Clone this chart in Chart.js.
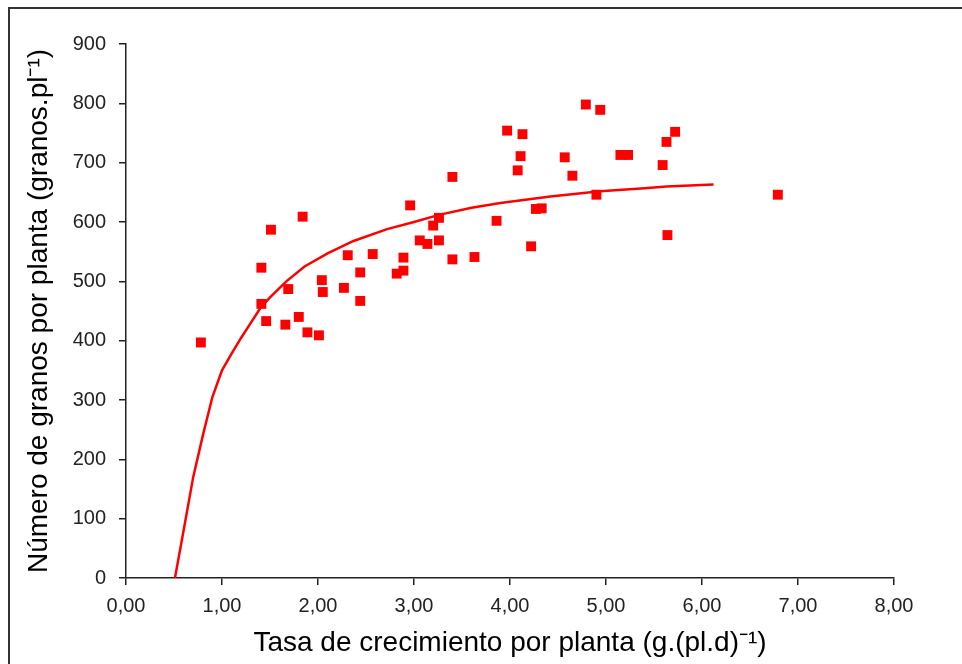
<!DOCTYPE html>
<html>
<head>
<meta charset="utf-8">
<script src="https://cdn.jsdelivr.net/npm/chart.js@4.4.1/dist/chart.umd.min.js"></script>
<style>
    html, body { margin: 0; padding: 0; background: #fff; overflow: hidden; }
    #frame { position: absolute; left: 8px; top: 7px; width: 1000px; height: 700px; border: 2px solid #333; }
    #wrap { position: absolute; left: 0; top: 0; width: 962px; height: 664px; }
</style>
</head>
<body>
<div id="frame"></div>
<div id="wrap"><canvas id="myChart"></canvas></div>
<script>
    // observed points: growth rate per plant vs grains per plant
    const tasaX = [0.78, 1.41, 1.41, 1.46, 1.51, 1.66, 1.69, 1.80, 1.84, 1.89,
        2.01, 2.04, 2.05, 2.27, 2.31, 2.44, 2.44, 2.57, 2.82, 2.89,
        2.89, 2.96, 3.06, 3.14, 3.20, 3.26, 3.26, 3.40, 3.40, 3.63,
        3.86, 3.97, 4.08, 4.11, 4.13, 4.22, 4.27, 4.33, 4.57, 4.65,
        4.79, 4.90, 4.94, 5.15, 5.23, 5.59, 5.63, 5.64, 5.72, 6.79];
    const granosY = [397, 523, 462, 433, 587, 427, 487, 440, 609, 414,
        409, 502, 482, 489, 544, 515, 467, 546, 513, 518,
        540, 628, 569, 563, 594, 607, 569, 676, 537, 541,
        602, 754, 687, 711, 748, 559, 622, 623, 709, 678,
        798, 646, 789, 713, 713, 696, 735, 578, 752, 646];

    // fitted curve
    const curvaX = [0.51, 0.60, 0.70, 0.80, 0.90, 1.00, 1.10, 1.20, 1.30, 1.40,
        1.50, 1.67, 1.86, 2.10, 2.37, 2.72, 3.00, 3.26, 3.60, 3.90,
        4.42, 4.94, 5.40, 5.63, 6.12];
    const curvaY = [0, 80, 170, 240, 305, 350, 378, 405, 430, 455,
        473, 500, 525, 547, 568, 588, 600, 612, 624, 632,
        643, 652, 657, 660, 663];

    const xTickLabels = ['0,00', '1,00', '2,00', '3,00', '4,00', '5,00', '6,00', '7,00', '8,00'];
    const yTickLabels = ['0', '100', '200', '300', '400', '500', '600', '700', '800', '900'];

    const puntos = tasaX.map((x, i) => ({ x: x, y: granosY[i] }));
    const curva = curvaX.map((x, i) => ({ x: x, y: curvaY[i] }));

    const ctx = document.getElementById('myChart');

    const myChart = new Chart(ctx, {
        type: 'scatter',
        data: {
            datasets: [{
                label: 'Observado',
                data: puntos,
                pointStyle: 'rect',
                pointRadius: 7,
                pointHoverRadius: 7,
                backgroundColor: '#ff0000',
                borderWidth: 0,
                order: 1
            }, {
                label: 'Ajuste',
                type: 'line',
                data: curva,
                showLine: true,
                borderColor: '#ff0000',
                borderWidth: 2.5,
                pointRadius: 0,
                tension: 0,
                fill: false,
                order: 2
            }]
        },
        options: {
            responsive: true,
            maintainAspectRatio: false,
            animation: false,
            layout: {
                padding: { top: 44, right: 68, left: 18, bottom: 0 }
            },
            scales: {
                x: {
                    type: 'linear',
                    min: 0,
                    max: 8,
                    afterFit: function (scale) { scale.height = 86; },
                    afterBuildTicks: function (scale) {
                        scale.ticks = xTickLabels.map((t, i) => ({ value: i }));
                    },
                    grid: {
                        drawOnChartArea: false,
                        drawTicks: true,
                        tickLength: 7,
                        color: '#222',
                        lineWidth: 1.5
                    },
                    border: { color: '#222', width: 1.5 },
                    ticks: {
                        color: '#222',
                        font: { family: 'Liberation Sans, Arial', size: 20 },
                        padding: 9,
                        maxRotation: 0,
                        callback: function (value, index) { return xTickLabels[index]; }
                    },
                    title: {
                        display: true,
                        text: 'Tasa de crecimiento por planta (g.(pl.d)\u207B\u00B9)',
                        color: '#000',
                        font: { family: 'Liberation Sans, Arial', size: 28 },
                        padding: { top: 2 }
                    }
                },
                y: {
                    min: 0,
                    max: 900,
                    afterFit: function (scale) { scale.width = 108; },
                    afterBuildTicks: function (scale) {
                        scale.ticks = yTickLabels.map((t, i) => ({ value: i * 100 }));
                    },
                    grid: {
                        drawOnChartArea: false,
                        drawTicks: true,
                        tickLength: 7,
                        color: '#222',
                        lineWidth: 1.5
                    },
                    border: { color: '#222', width: 1.5 },
                    ticks: {
                        color: '#222',
                        font: { family: 'Liberation Sans, Arial', size: 20 },
                        padding: 13,
                        callback: function (value, index) { return yTickLabels[index]; }
                    },
                    title: {
                        display: true,
                        text: 'Número de granos por planta (granos.pl\u207B\u00B9)',
                        color: '#000',
                        font: { family: 'Liberation Sans, Arial', size: 28 },
                        padding: { bottom: 4 }
                    }
                }
            },
            plugins: {
                legend: { display: false },
                tooltip: { enabled: false }
            }
        }
    });
</script>
</body>
</html>
